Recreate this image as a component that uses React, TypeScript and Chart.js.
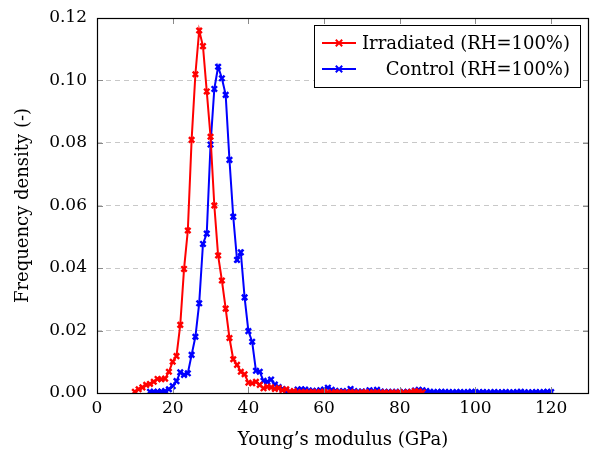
import React, { useEffect, useRef } from "react";
import { Chart, registerables } from "chart.js";

Chart.register(...registerables);

const redModulus = [10, 11, 12, 13, 14, 15, 16, 17, 18, 19, 20, 21, 22, 23, 24, 25, 26, 27, 28, 29, 30, 31, 32, 33, 34, 35, 36, 37, 38, 39, 40, 41, 42, 43, 44, 45, 46, 47, 48, 49, 50, 51, 52, 53, 54, 55, 56, 57, 58, 59, 60, 61, 62, 63, 64, 65, 66, 67, 68, 69, 70, 71, 72, 73, 74, 75, 76, 77, 78, 79, 80, 81, 82, 83, 84, 85, 86];
const redDensity = [0.0004, 0.0012, 0.0018, 0.0026, 0.0029, 0.0036, 0.0045, 0.0044, 0.0046, 0.0068, 0.01, 0.0118, 0.0218, 0.0397, 0.052, 0.081, 0.102, 0.116, 0.111, 0.0965, 0.082, 0.06, 0.044, 0.036, 0.027, 0.0176, 0.0108, 0.009, 0.0068, 0.006, 0.0033, 0.0031, 0.0036, 0.0026, 0.0015, 0.002, 0.0018, 0.0013, 0.0016, 0.0009, 0.0012, 0.0004, 0.0006, 0.0002, 0.0003, 0.0003, 0.0002, 0.0004, 0.0002, 0.0003, 0.0004, 0.0002, 0.0001, 0.0003, 0.0002, 0.0002, 0.0001, 0.0003, 0.0002, 0.0001, 0.0002, 0.0003, 0.0001, 0.0002, 0.0002, 0.0001, 0.0002, 0.0001, 0.0002, 0.0001, 0.0002, 0.0001, 0.0002, 0.0003, 0.0006, 0.0005, 0.0002];

const blueModulus = [14, 15, 16, 17, 18, 19, 20, 21, 22, 23, 24, 25, 26, 27, 28, 29, 30, 31, 32, 33, 34, 35, 36, 37, 38, 39, 40, 41, 42, 43, 44, 45, 46, 47, 48, 49, 50, 51, 52, 53, 54, 55, 56, 57, 58, 59, 60, 61, 62, 63, 64, 65, 66, 67, 68, 69, 70, 71, 72, 73, 74, 75, 76, 77, 78, 79, 80, 81, 82, 83, 84, 85, 86, 87, 88, 89, 90, 91, 92, 93, 94, 95, 96, 97, 98, 99, 100, 101, 102, 103, 104, 105, 106, 107, 108, 109, 110, 111, 112, 113, 114, 115, 116, 117, 118, 119, 120];
const blueDensity = [0.0004, 0.0004, 0.0004, 0.0005, 0.0006, 0.0012, 0.0022, 0.0038, 0.0066, 0.0058, 0.0063, 0.0122, 0.018, 0.0287, 0.0477, 0.051, 0.0795, 0.0973, 0.1044, 0.1007, 0.0954, 0.0746, 0.0564, 0.0426, 0.045, 0.0306, 0.0198, 0.0164, 0.0071, 0.0068, 0.0039, 0.0036, 0.0043, 0.0027, 0.0019, 0.0013, 0.0006, 0.0003, 0.0004, 0.0011, 0.0012, 0.0011, 0.0008, 0.0007, 0.0006, 0.0009, 0.0011, 0.0017, 0.001, 0.0007, 0.0005, 0.0006, 0.0005, 0.0013, 0.0006, 0.0004, 0.0005, 0.0004, 0.0009, 0.0006, 0.001, 0.0005, 0.0003, 0.0004, 0.0003, 0.0004, 0.0003, 0.0003, 0.0004, 0.0003, 0.0008, 0.001, 0.0009, 0.0006, 0.0004, 0.0003, 0.0003, 0.0004, 0.0003, 0.0003, 0.0002, 0.0003, 0.0003, 0.0002, 0.0003, 0.0004, 0.0003, 0.0002, 0.0003, 0.0002, 0.0002, 0.0003, 0.0002, 0.0002, 0.0003, 0.0002, 0.0002, 0.0003, 0.0004, 0.0002, 0.0002, 0.0002, 0.0003, 0.0002, 0.0003, 0.0004, 0.0003];

const seriesLabels = ["Irradiated (RH=100%)", "Control (RH=100%)"];
const seriesColors = ["#ff0000", "#0000ff"];
const xTicks = [0, 20, 40, 60, 80, 100, 120];
const yTicks = [0, 0.02, 0.04, 0.06, 0.08, 0.1, 0.12];
const xTitle = "Young\u2019s modulus (GPa)";
const yTitle = "Frequency density (-)";

const FONT = "'DejaVu Serif', serif";
const FS = 17;
const FS_TITLE = 18;

const framePlugin = {
  id: "frame",
  afterDraw(chart: any) {
    const { ctx, chartArea } = chart;
    const { left, right, top, bottom } = chartArea;
    const xs = chart.scales.x;
    const ys = chart.scales.y;
    ctx.save();
    ctx.strokeStyle = "#8a8a8a";
    ctx.lineWidth = 1;
    ctx.beginPath();
    xTicks.forEach((v) => {
      const px = Math.round(xs.getPixelForValue(v)) + 0.5;
      ctx.moveTo(px, bottom);
      ctx.lineTo(px, bottom - 6);
      ctx.moveTo(px, top);
      ctx.lineTo(px, top + 6);
    });
    yTicks.forEach((v) => {
      const py = Math.round(ys.getPixelForValue(v)) + 0.5;
      ctx.moveTo(left, py);
      ctx.lineTo(left + 6, py);
      ctx.moveTo(right, py);
      ctx.lineTo(right - 6, py);
    });
    ctx.stroke();
    ctx.strokeStyle = "#000";
    ctx.lineWidth = 1.2;
    ctx.strokeRect(Math.round(left) + 0.5, Math.round(top) + 0.5, Math.round(right - left) - 1, Math.round(bottom - top));

    const bx = 314.5, by = 25.5, bw = 266, bh = 62;
    ctx.fillStyle = "#fff";
    ctx.fillRect(bx, by, bw, bh);
    ctx.strokeStyle = "#000";
    ctx.lineWidth = 1;
    ctx.strokeRect(bx, by, bw, bh);
    ctx.font = `${FS_TITLE}px ${FONT}`;
    ctx.textAlign = "right";
    ctx.textBaseline = "middle";
    const rows = [43, 69];
    seriesLabels.forEach((lab, i) => {
      const y = rows[i];
      ctx.strokeStyle = seriesColors[i];
      ctx.lineWidth = 2;
      ctx.beginPath();
      ctx.moveTo(322, y);
      ctx.lineTo(356, y);
      ctx.stroke();
      const m = 3.2;
      ctx.beginPath();
      ctx.moveTo(339 - m, y - m);
      ctx.lineTo(339 + m, y + m);
      ctx.moveTo(339 - m, y + m);
      ctx.lineTo(339 + m, y - m);
      ctx.stroke();
      ctx.fillStyle = "#000";
      ctx.fillText(lab, 570, y + 1);
    });
    ctx.restore();
  },
};

export default function App() {
  const ref = useRef<HTMLCanvasElement>(null);
  useEffect(() => {
    if (!ref.current) return;
    const mkData = (xs: number[], ys: number[]) => xs.map((x, i) => ({ x, y: ys[i] }));
    const ds = (i: number, xs: number[], ys: number[]) => ({
      label: seriesLabels[i],
      data: mkData(xs, ys),
      borderColor: seriesColors[i],
      backgroundColor: seriesColors[i],
      borderWidth: 2,
      pointStyle: "crossRot",
      pointRadius: 3.8,
      pointBorderWidth: 2.4,
      tension: 0,
    });
    const chart = new Chart(ref.current, {
      type: "line",
      data: {
        datasets: [ds(0, redModulus, redDensity), ds(1, blueModulus, blueDensity)],
      },
      options: {
        animation: false,
        responsive: false,
        maintainAspectRatio: false,
        layout: { autoPadding: false, padding: { left: 0, right: 1, top: 18, bottom: 0 } },
        plugins: { legend: { display: false }, tooltip: { enabled: false } },
        scales: {
          x: {
            type: "linear",
            min: 0,
            max: 130,
            afterBuildTicks: (s: any) => {
              s.ticks = xTicks.map((v) => ({ value: v }));
            },
            afterFit: (s: any) => {
              s.height = 61;
              s.paddingLeft = 0;
              s.paddingRight = 0;
            },
            grid: { display: false, drawTicks: false },
            border: { display: false },
            ticks: {
              color: "#000",
              font: { family: FONT, size: FS },
              padding: 5,
              maxRotation: 0,
              callback: (v: any) => String(v),
            },
            title: {
              display: true,
              text: xTitle,
              color: "#000",
              font: { family: FONT, size: FS_TITLE },
              padding: { top: 0, bottom: 3 },
            },
          },
          y: {
            type: "linear",
            min: 0,
            max: 0.12,
            afterBuildTicks: (s: any) => {
              s.ticks = yTicks.map((v) => ({ value: v }));
            },
            afterFit: (s: any) => {
              s.width = 97;
              s.paddingTop = 0;
              s.paddingBottom = 0;
            },
            grid: {
              drawTicks: false,
              color: (c: any) => (c.tick && (c.tick.value === 0 || c.tick.value === 0.12) ? "rgba(0,0,0,0)" : "#c8c8c8"),
              lineWidth: 1,
            },
            border: { display: false, dash: [5, 4] },
            ticks: {
              color: "#000",
              font: { family: FONT, size: FS },
              padding: 10,
              callback: (v: any) => Number(v).toFixed(2),
            },
            title: {
              display: true,
              text: yTitle,
              color: "#000",
              font: { family: FONT, size: FS_TITLE },
              padding: { top: 13, bottom: 0 },
            },
          },
        },
      },
      plugins: [framePlugin],
    } as any);
    return () => chart.destroy();
  }, []);
  return (
    <div style={{ position: "fixed", left: 0, top: 0, width: 590, height: 454, background: "#fff" }}>
      <canvas ref={ref} width={590} height={454} style={{ width: 590, height: 454 }} />
    </div>
  );
}
